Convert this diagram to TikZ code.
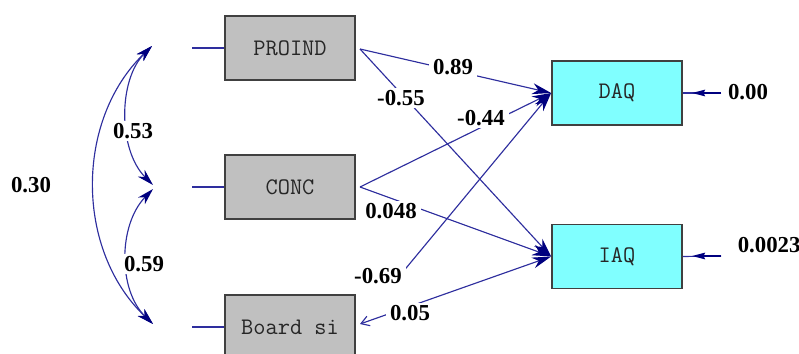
\documentclass[tikz,border=0pt]{standalone}
\usepackage{fontspec}
\setmainfont{Liberation Serif}
\usepackage{xcolor}
\usepackage{tikz}
\usetikzlibrary{arrows.meta}
\definecolor{pathblue}{HTML}{2E2E9E}
\definecolor{tipblue}{HTML}{00007F}
\definecolor{boxgray}{HTML}{C0C0C0}
\definecolor{boxcyan}{HTML}{80FFFF}
\definecolor{edgegray}{HTML}{404040}
\tikzset{
  pathline/.style={draw=pathblue, line width=0.65pt},
  bigtip/.style={-{Stealth[length=3.8mm,width=2.2mm,inset=1.2mm,color=tipblue]}},
  twotip/.style={{Stealth[length=3.3mm,width=1.9mm,inset=1mm,color=tipblue]}-{Stealth[length=3.3mm,width=1.9mm,inset=1mm,color=tipblue]}},
  mixtip/.style={{Straight Barb[length=1.6mm,width=2mm,color=pathblue]}-{Stealth[length=3.8mm,width=2.2mm,inset=1.2mm,color=tipblue]}},
  errtip/.style={-{Stealth[length=2.6mm,width=1.3mm,inset=0.3mm,color=tipblue]}, line width=1pt, draw=tipblue},
  obsbox/.style={draw=edgegray, line width=1pt, fill=boxgray, minimum width=26mm, minimum height=12.8mm, font=\ttfamily\fontsize{13.5}{15}\selectfont, text=black!85},
  latbox/.style={obsbox, fill=boxcyan},
  lab/.style={font=\bfseries\fontsize{13}{15}\selectfont, fill=white, inner xsep=2.5pt, inner ysep=1pt},
}
\begin{document}
\begin{tikzpicture}[x=0.2mm,y=-0.2mm]
  \useasboundingbox (0,0) rectangle (799,354);

  \node[obsbox] (PROIND) at (290,48) {PROIND};
  \node[obsbox] (CONC) at (290,187) {CONC};
  \node[obsbox] (Board) at (290,327) {Board si};
  \node[latbox] (DAQ) at (617,93) {DAQ};
  \node[latbox] (IAQ) at (617,256.5) {IAQ};

  \coordinate (pStub) at (192,48);
  \coordinate (cStub) at (192,187);
  \coordinate (bStub) at (192,327);
  \coordinate (pTip) at (152,46);
  \coordinate (cTipA) at (153,185);
  \coordinate (cTipB) at (153,189);
  \coordinate (bTip) at (153,324);
  \coordinate (pOut) at (360,49);
  \coordinate (cOut) at (360,187);
  \coordinate (bOut) at (360,324);
  \coordinate (bFar) at (402,273);
  \coordinate (eDAQ) at (721,93);
  \coordinate (eDAQm) at (692,93);
  \coordinate (eIAQ) at (721,256);
  \coordinate (eIAQm) at (692,256);

  \draw[pathline] (pStub) -- (PROIND.west);
  \draw[pathline] (cStub) -- (CONC.west);
  \draw[pathline] (bStub) -- (Board.west);

  \draw[pathline,twotip] (pTip) .. controls (75,120) and (75,250) .. (bTip);
  \draw[pathline,twotip] (pTip) .. controls (118,80) and (118,150) .. (cTipA);
  \draw[pathline,twotip] (cTipB) .. controls (118,225) and (118,290) .. (bTip);

  \draw[pathline,bigtip] (pOut) -- (DAQ.west);
  \draw[pathline,bigtip] (pOut) -- (IAQ.west);
  \draw[pathline,bigtip] (cOut) -- (DAQ.west);
  \draw[pathline,bigtip] (cOut) -- (IAQ.west);
  \draw[pathline,bigtip] (bFar) -- (DAQ.west);
  \draw[pathline,mixtip] (bOut) -- (IAQ.west);

  \draw[pathline] (eDAQ) -- (DAQ.east);
  \draw[errtip] (eDAQ) -- (eDAQm);
  \draw[pathline] (eIAQ) -- (IAQ.east);
  \draw[errtip] (eIAQ) -- (eIAQm);

  \node[lab] (l30) at (31,185) {0.30};
  \node[lab] (l53) at (133,131) {0.53};
  \node[lab] (l59) at (144,264) {0.59};
  \node[lab] (l89) at (453,67) {0.89};
  \node[lab] (l55) at (401,98) {-0.55};
  \node[lab] (l44) at (481,118) {-0.44};
  \node[lab] (l48) at (391,211) {0.048};
  \node[lab] (l69) at (378,276) {-0.69};
  \node[lab] (l05) at (410,313) {0.05};
  \node[lab] (l00) at (748,92) {0.00};
  \node[lab,anchor=west] (l23) at (733,245) {0.0023};
\end{tikzpicture}
\end{document}
